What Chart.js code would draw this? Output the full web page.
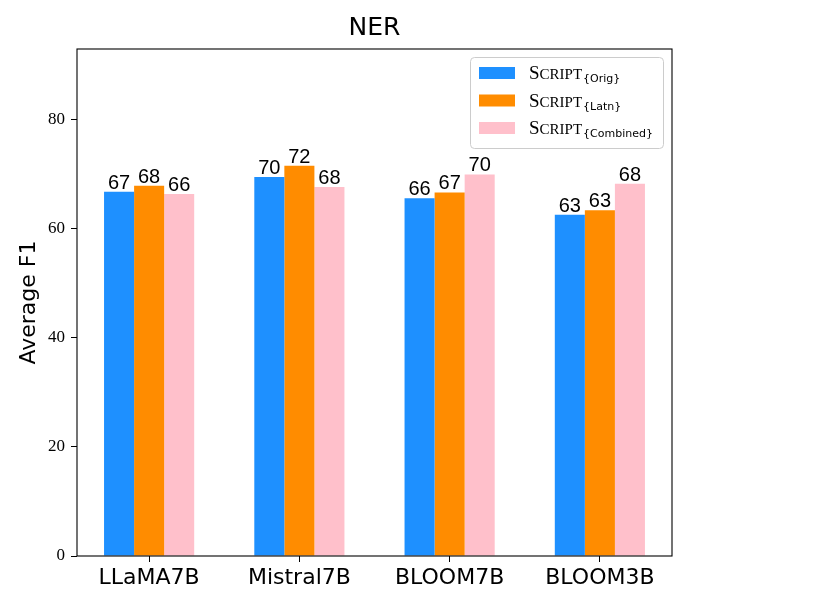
<!DOCTYPE html>
<html>
<head>
<meta charset="utf-8">
<script src="https://cdn.jsdelivr.net/npm/chart.js@4.4.1/dist/chart.umd.min.js"></script>
<style>
  html, body { margin: 0; padding: 0; background: #fff; }
  #wrap { width: 814px; height: 610px; }
</style>
</head>
<body>
<div id="wrap"><canvas id="ner-chart" width="814" height="610"></canvas></div>
<script>
// values
const models = ['LLaMA7B', 'Mistral7B', 'BLOOM7B', 'BLOOM3B'];
const scriptOrig = [66.8, 69.5, 65.6, 62.6];
const scriptLatn = [67.9, 71.6, 66.7, 63.4];
const scriptCombined = [66.4, 67.7, 70.0, 68.3];
const yTicks = [0, 20, 40, 60, 80];
const seriesNames = ['Orig', 'Latn', 'Combined'];
const seriesColors = ['#1e90ff', '#ff8c00', '#ffc0cb'];

const sansFont = "'DejaVu Sans', sans-serif";
const serifFont = "'Liberation Serif', serif";

function toPoints(values) {
    return values.map((v, i) => ({ x: i, y: v }));
}

/**
 * Box around the plot, like matplotlib spines
 */
const framePlugin = {
    id: 'frame',
    afterDraw(chart) {
        const { ctx, chartArea } = chart;
        ctx.save();
        ctx.strokeStyle = '#000';
        ctx.lineWidth = 1.1;
        ctx.strokeRect(chartArea.left, chartArea.top,
            chartArea.right - chartArea.left, chartArea.bottom - chartArea.top);
        ctx.restore();
    }
};

/**
 * Rounded value above every bar
 */
const valueLabels = {
    id: 'valueLabels',
    afterDatasetsDraw(chart) {
        const ctx = chart.ctx;
        ctx.save();
        ctx.font = "20px 'Liberation Sans', sans-serif";
        ctx.fillStyle = '#000';
        ctx.textAlign = 'center';
        ctx.textBaseline = 'alphabetic';
        chart.data.datasets.forEach((ds, di) => {
            chart.getDatasetMeta(di).data.forEach((bar, i) => {
                ctx.fillText(String(Math.round(ds.data[i].y)), bar.x, bar.y - 3);
            });
        });
        ctx.restore();
    }
};

/**
 * Legend with small caps "Script" and a sans subscript
 */
const scriptLegend = {
    id: 'scriptLegend',
    afterDraw(chart) {
        const { ctx, chartArea } = chart;
        const right = chartArea.right - 9;
        const top = chartArea.top + 8;
        const w = 193, h = 91;
        const left = right - w;
        ctx.save();
        ctx.beginPath();
        ctx.roundRect(left + 0.5, top + 0.5, w, h, 4);
        ctx.fillStyle = 'rgba(255,255,255,0.8)';
        ctx.fill();
        ctx.strokeStyle = '#cccccc';
        ctx.lineWidth = 1;
        ctx.stroke();

        ctx.textAlign = 'left';
        ctx.textBaseline = 'alphabetic';
        seriesNames.forEach((name, i) => {
            const base = top + 22 + i * 27.5;
            ctx.fillStyle = seriesColors[i];
            ctx.fillRect(left + 9, base - 12, 36, 12);

            ctx.fillStyle = '#000';
            let x = left + 59;
            ctx.font = '19px ' + serifFont;
            ctx.fillText('S', x, base);
            x += ctx.measureText('S').width;
            ctx.font = '15px ' + serifFont;
            ctx.fillText('CRIPT', x, base);
            x += ctx.measureText('CRIPT').width + 1;
            ctx.font = '11px ' + sansFont;
            ctx.fillText('{' + name + '}', x, base + 3);
        });
        ctx.restore();
    }
};

const ctx = document.getElementById('ner-chart');

new Chart(ctx, {
    type: 'bar',
    data: {
        datasets: [
            { label: 'Orig', data: toPoints(scriptOrig), backgroundColor: seriesColors[0] },
            { label: 'Latn', data: toPoints(scriptLatn), backgroundColor: seriesColors[1] },
            { label: 'Combined', data: toPoints(scriptCombined), backgroundColor: seriesColors[2] }
        ]
    },
    options: {
        responsive: false,
        animation: false,
        devicePixelRatio: 1,
        categoryPercentage: 0.6,
        barPercentage: 1.0,
        layout: {
            padding: { left: 0, right: 142, top: 0, bottom: 0 }
        },
        plugins: {
            legend: { display: false },
            tooltip: { enabled: false },
            title: {
                display: true,
                text: 'NER',
                fullSize: false,
                color: '#000',
                font: { family: sansFont, size: 25, weight: 'normal' },
                padding: { top: 13, bottom: 6 }
            }
        },
        scales: {
            x: {
                type: 'linear',
                offset: false,
                min: -0.48,
                max: 3.48,
                afterFit: (scale) => { scale.height = 54; },
                afterBuildTicks: (scale) => {
                    scale.ticks = models.map((m, i) => ({ value: i }));
                },
                grid: {
                    offset: false,
                    drawOnChartArea: false,
                    drawTicks: true,
                    tickLength: 6,
                    color: '#000'
                },
                border: { display: false },
                ticks: {
                    padding: 3,
                    color: '#000',
                    maxRotation: 0,
                    autoSkip: false,
                    font: { family: sansFont, size: 22 },
                    callback: (value) => models[value]
                }
            },
            y: {
                min: 0,
                max: 93,
                afterFit: (scale) => { scale.width = 77; },
                afterBuildTicks: (scale) => {
                    scale.ticks = yTicks.map(v => ({ value: v }));
                },
                grid: {
                    drawOnChartArea: false,
                    drawTicks: true,
                    tickLength: 6,
                    color: '#000'
                },
                border: { display: false },
                ticks: {
                    padding: 6,
                    color: '#000',
                    font: { family: serifFont, size: 17 }
                },
                title: {
                    display: true,
                    text: 'Average F1',
                    color: '#000',
                    font: { family: sansFont, size: 22 },
                    padding: { top: 16, bottom: 0 }
                }
            }
        }
    },
    plugins: [framePlugin, valueLabels, scriptLegend]
});
</script>
</body>
</html>
